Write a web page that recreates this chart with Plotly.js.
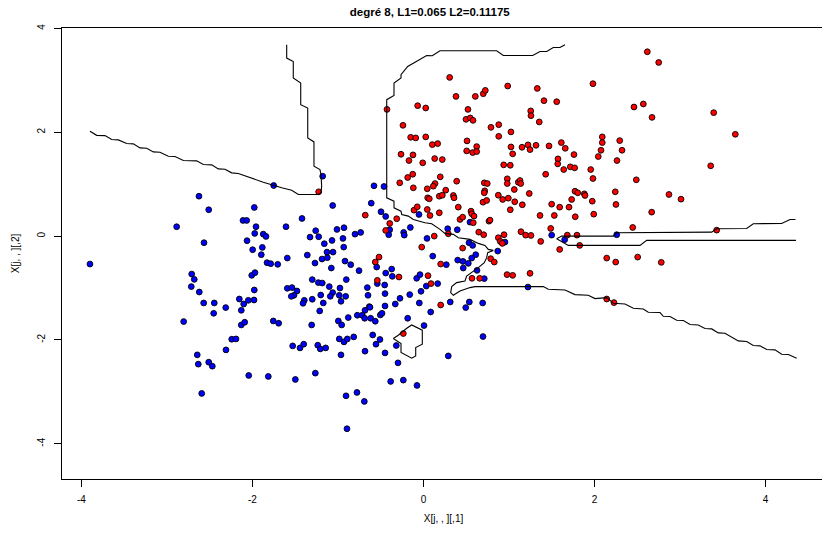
<!DOCTYPE html>
<html>
<head>
<meta charset="utf-8">
<script src="https://cdn.plot.ly/plotly-3.0.1.min.js"></script>
<style>
html, body { margin:0; padding:0; overflow:hidden; background:#fff; }
#chart { width:830px; height:535px; }
</style>
</head>
<body>
<div id="chart"></div>
<script>
// ---- class 1 (red) points ----
const redX = [-0.427,-0.068,0.026,-0.240,-0.150,-0.091,0.026,-0.263,-0.123,-0.170,-0.009,
 0.306,0.380,0.606,0.699,0.723,0.985,1.331,1.982,0.520,0.497,0.547,0.579,1.409,1.558,1.254,1.257,1.354,0.789,0.880,0.880,1.023,
 0.103,0.166,0.509,0.622,0.505,0.575,0.622,1.023,1.043,1.152,1.222,1.246,1.316,1.468,1.612,1.658,1.760,2.091,2.091,2.076,2.044,1.956,
 0.131,0.220,0.938,1.015,1.573,1.570,1.640,1.717,1.768,
 2.618,2.751,2.462,2.571,2.673,3.394,3.647,2.295,2.322,2.263,3.359,
 -0.278,-0.185,-0.126,-0.119,0.044,0.049,-0.111,-0.073,0.044,-0.681,-0.313,-0.395,-0.442,-0.021,-0.520,-0.564,-0.540,-0.287,0.053,-1.226,
 0.196,0.135,0.115,0.260,0.388,0.068,0.185,0.220,0.349,0.357,0.076,0.185,0.407,0.427,0.458,0.556,0.564,0.591,0.582,0.766,0.778,0.646,0.704,
 0.126,0.290,0.458,0.786,0.828,0.201,0.875,0.898,0.942,0.922,0.977,1.043,1.246,0.088,0.567,0.657,0.201,
 1.140,1.195,1.257,1.371,1.488,1.593,1.682,1.795,1.827,
 0.711,0.716,0.746,0.711,0.696,0.739,0.875,0.926,0.980,0.980,0.992,1.062,1.067,1.109,1.129,1.137,1.237,1.156,1.015,
 1.363,1.530,1.499,1.593,1.702,1.733,1.772,1.804,1.881,1.889,1.974,1.982,1.429,1.775,1.991,
 2.489,2.243,2.251,2.871,3.012,2.669,2.447,3.429,2.143,2.248,2.505,2.781,2.143,2.228,
 -0.236];
const redY = [2.442,2.513,2.469,2.135,1.904,1.892,1.912,1.577,1.565,1.456,1.412,
 3.058,2.692,2.692,2.744,2.808,2.892,2.846,2.937,2.442,2.250,2.277,2.231,2.610,2.590,2.412,2.321,2.200,2.096,2.148,1.923,2.008,
 1.763,1.783,1.835,1.725,1.642,1.610,1.629,1.719,1.585,1.712,1.758,1.667,1.750,1.738,1.802,1.692,1.571,1.912,1.802,1.654,1.533,1.283,
 1.494,1.475,1.373,1.365,1.488,1.392,1.283,1.335,1.315,
 3.552,3.346,2.488,2.546,2.288,2.379,1.962,1.840,1.654,1.456,1.354,
 1.027,1.129,1.192,0.931,0.912,0.738,0.500,0.565,0.513,0.404,0.335,0.244,0.110,-0.212,-0.404,-0.500,-0.852,-0.788,-0.762,0.854,
 1.142,1.013,0.962,0.885,1.058,0.719,0.769,0.788,0.783,0.738,0.398,0.450,0.558,0.321,0.365,0.481,0.431,0.385,0.258,0.288,0.308,0.077,0.027,
 0.000,0.046,-0.231,-0.435,-0.500,-0.538,-0.031,-0.102,0.027,-0.140,-0.742,-0.756,-0.717,-0.915,-0.813,-0.813,-1.327,
 0.085,0.019,0.013,-0.102,0.148,-0.256,0.019,0.019,-0.179,
 1.027,0.873,1.013,0.835,0.654,0.687,0.788,0.706,1.104,1.013,0.731,0.898,0.662,1.038,1.071,1.013,0.821,0.604,0.508,
 0.398,0.398,0.615,0.558,0.558,0.706,0.865,0.835,0.815,0.783,0.673,1.110,1.192,0.373,0.423,
 1.085,0.854,0.610,0.802,0.712,0.462,0.167,0.115,-0.423,-0.500,-0.404,-0.506,-1.212,-1.281,
 -1.877];

// ---- class 0 (blue) points ----
const blueX = [-2.626,-2.512,-2.887,-2.111,-2.068,-2.064,-2.567,-3.901,-2.711,-2.681,-2.716,-2.622,-2.009,-2.571,-2.447,-2.154,-2.049,-2.103,
 -1.179,-1.752,-1.979,-1.062,-1.421,-1.959,-1.974,-1.608,-1.874,-1.842,-1.261,-1.327,-1.226,-1.012,-0.930,-0.801,-0.735,-1.160,-1.070,-0.942,
 -1.998,-1.885,-1.897,-0.933,-1.129,-1.058,-1.359,-1.187,-1.125,-1.593,-1.830,-1.787,-1.705,-1.269,-0.918,-0.851,-1.078,-0.754,-1.971,
 -0.579,-0.462,-0.611,-0.497,-0.442,-0.395,-0.407,-0.232,-0.225,-0.154,-0.053,0.041,
 -0.547,-0.372,-0.442,-0.365,-0.540,-0.454,-0.080,-0.041,0.033,-0.029,
 -1.301,-1.230,-1.184,-0.903,-1.102,-1.593,-1.538,-1.480,-1.515,-1.546,-0.977,-1.062,-1.202,-1.090,-0.985,-0.910,-0.657,-0.649,-0.450,
 -1.979,-1.982,-1.394,-1.409,-1.301,-1.172,-0.965,-0.275,-0.161,-0.330,-0.049,-0.450,-0.634,
 0.283,0.395,0.544,0.532,0.575,0.953,0.868,0.611,0.564,0.400,0.462,0.524,0.465,0.626,0.108,0.711,0.166,0.267,1.222,1.499,1.651,0.313,0.536,0.692,
 2.260,
 -2.313,-2.131,-2.454,-2.805,-2.131,-2.091,-2.243,-2.193,-2.310,-2.646,-2.634,-2.512,-2.470,-2.044,-2.594,
 -1.214,-0.684,-0.626,-1.757,-1.694,-1.308,-0.996,-0.957,-0.880,-0.774,-0.716,-0.688,-0.618,-0.564,-0.505,-0.485,-0.185,0.006,
 -1.530,-1.444,-1.401,-1.237,-1.207,-1.144,-0.985,-0.930,-0.891,-0.816,-0.594,-0.509,-0.556,-0.684,-0.965,-0.450,-0.318,-0.298,
 -1.815,-1.499,-1.265,-0.384,-0.236,-0.076,-0.906,-0.778,-0.692,-0.895,
 0.084,0.494,0.696,0.290];
const blueY = [0.769,0.508,0.181,0.302,0.302,-0.088,-0.127,-0.538,-0.731,-0.833,-0.973,-1.077,-0.756,-1.288,-1.288,-1.212,-1.237,-1.308,
 1.154,0.975,0.552,0.590,0.340,0.181,0.052,0.181,0.038,-0.006,0.104,-0.019,-0.012,0.129,0.162,0.038,0.071,-0.146,-0.083,-0.044,
 -0.262,-0.217,-0.358,-0.212,-0.308,-0.308,-0.365,-0.442,-0.415,-0.423,-0.512,-0.531,-0.544,-0.519,-0.481,-0.550,-0.615,-0.665,-0.704,
 0.969,0.956,0.635,0.469,0.379,0.123,0.027,0.071,0.019,0.167,0.417,-0.044,
 -0.596,-0.635,-0.712,-0.775,-0.915,-0.942,-0.813,-0.742,-0.962,-1.063,
 -0.838,-0.896,-0.904,-0.838,-0.973,-1.006,-0.992,-1.058,-1.140,-1.160,-1.000,-1.088,-1.135,-1.160,-1.140,-1.160,-0.992,-1.140,-1.108,
 -1.038,-1.231,-1.237,-1.294,-1.217,-1.288,-1.256,-1.198,-1.127,-1.308,-1.288,-1.346,-1.358,
 0.142,0.123,0.269,-0.127,-0.179,-0.115,-0.288,-0.358,-0.423,-0.462,-0.487,-0.525,-0.615,-0.660,-0.385,-0.819,-0.915,-0.550,-0.981,0.019,-0.069,-1.269,-1.269,-1.288,
 0.027,
 -1.377,-1.429,-1.487,-1.646,-1.712,-1.660,-1.987,-1.981,-2.192,-2.288,-2.467,-2.429,-2.506,-2.685,-3.031,
 -1.442,-1.429,-1.371,-1.635,-1.679,-1.712,-1.635,-1.712,-1.569,-1.525,-1.525,-1.583,-1.583,-1.640,-1.519,-1.487,-1.583,-1.723,
 -2.115,-2.154,-2.083,-2.102,-2.173,-2.154,-1.981,-2.038,-1.981,-1.942,-1.904,-1.992,-2.083,-2.217,-2.288,-2.250,-2.108,-2.442,
 -2.704,-2.762,-2.640,-2.800,-2.775,-2.877,-3.077,-3.012,-3.185,-3.712,
 -1.462,-1.377,-1.935,-2.308];

// ---- decision boundary (contour) paths ----
const boundA_x = [-1.600,-1.600,-1.523,-1.523,-1.436,-1.436,-1.354,-1.354,-1.281,-1.281,-1.211,-1.199,-1.191,-1.199,-1.230,-1.464,-1.542,-1.658,-1.874,-2.029,-2.068,-2.166,-2.243,-2.322,-2.400,-2.477,-2.575,-2.653,-2.809,-2.906,-2.985,-3.082,-3.160,-3.237,-3.316,-3.394,-3.471,-3.570,-3.647,-3.725,-3.822,-3.901];
const boundA_y = [3.687,3.431,3.365,3.046,2.950,2.533,2.469,1.892,1.815,1.346,1.283,1.187,0.962,0.835,0.802,0.802,0.885,0.931,1.038,1.123,1.142,1.206,1.219,1.288,1.296,1.373,1.379,1.450,1.456,1.533,1.538,1.615,1.623,1.692,1.700,1.777,1.783,1.854,1.860,1.937,1.942,2.019];

const boundB_x = [1.655,1.596,1.518,1.441,1.363,1.277,0.933,0.856,0.193,0.103,0.037,-0.091,-0.185,-0.263,-0.263,-0.345,-0.345,-0.430,-0.430,-0.345,-0.345,-0.263,-0.255,-0.178,-0.119,0.018,0.096,0.193,0.251,0.349,0.407,0.544,0.641,0.719,0.758,0.816,0.751,0.739,0.711,0.641,0.505,0.485,0.388,0.330,0.318,0.349,0.427,0.544,0.602,1.401,1.460,1.655,1.772,1.927,2.006,2.143,2.220,2.357,2.454,2.571,2.629,2.766,2.805,2.883,2.961,3.039,3.117,3.214,3.292,3.371,3.448,3.526,3.605,3.682,3.780,3.857,3.936,4.014,4.111,4.189,4.267,4.365];
const boundB_y = [3.687,3.635,3.635,3.558,3.558,3.481,3.481,3.571,3.571,3.475,3.481,3.365,3.269,3.110,3.046,2.950,2.712,2.629,0.738,0.673,0.546,0.481,0.417,0.385,0.321,0.258,0.238,0.129,0.052,0.033,-0.031,-0.063,-0.140,-0.179,-0.256,-0.275,-0.319,-0.415,-0.512,-0.608,-0.769,-0.865,-0.896,-0.973,-1.088,-1.140,-1.058,-0.992,-0.973,-0.973,-1.025,-1.038,-1.127,-1.140,-1.204,-1.185,-1.294,-1.308,-1.390,-1.404,-1.467,-1.473,-1.544,-1.550,-1.621,-1.627,-1.704,-1.712,-1.781,-1.788,-1.865,-1.871,-1.942,-2.019,-2.031,-2.108,-2.115,-2.185,-2.192,-2.275,-2.281,-2.352];

const boundC_x = [4.351,4.287,4.189,3.857,3.780,3.429,3.371,2.260,2.220,1.616,1.558,1.694,2.532,2.611,4.357];
const boundC_y = [0.321,0.321,0.244,0.238,0.148,0.142,0.077,0.065,0.000,0.000,-0.050,-0.179,-0.179,-0.083,-0.083];

const boundD_x = [-0.353,-0.295,-0.196,-0.138,-0.014,-0.014,-0.091,-0.091,-0.138,-0.263,-0.263,-0.353];
const boundD_y = [-1.973,-1.910,-1.775,-1.712,-1.813,-2.083,-2.146,-2.308,-2.352,-2.242,-2.069,-1.973];

const xTicks = [-4,-2,0,2,4];
const yTicks = [-4,-2,0,2,4];

const FONT = 'Liberation Sans, Arial, Helvetica, sans-serif';
const pt = (x, y, c) => ({
  type:'scatter', mode:'markers', x:x, y:y, hoverinfo:'skip', showlegend:false, cliponaxis:false,
  marker:{color:c, size:5.8, line:{color:'#000', width:0.9}}
});
const ln = (x, y) => ({
  type:'scatter', mode:'lines', x:x, y:y, hoverinfo:'skip', showlegend:false,
  line:{color:'#000', width:1.1}
});

const data = [
  pt(blueX, blueY, '#0000FF'),
  pt(redX, redY, '#FF0000'),
  ln(boundA_x, boundA_y), ln(boundB_x, boundB_y), ln(boundC_x, boundC_y), ln(boundD_x, boundD_y)
];

const axisCommon = {
  showgrid:false, zeroline:false, showline:true, mirror:true, linecolor:'#000', linewidth:1,
  ticks:'outside', ticklen:7, tickwidth:1, tickcolor:'#000',
  tickfont:{family:FONT, size:10, color:'#000'}
};

const layout = {
  width:830, height:535,
  margin:{l:62, r:5, t:28, b:56, pad:0},
  paper_bgcolor:'#fff', plot_bgcolor:'#fff',
  font:{family:FONT, color:'#000'},
  title:{text:'<b>degré 8, L1=0.065 L2=0.11175</b>', font:{family:FONT, size:11.5, color:'#000'},
         x:0.482, xanchor:'center', xref:'paper', y:0.978, yref:'container', yanchor:'middle'},
  xaxis:Object.assign({}, axisCommon, {
    range:[-4.228, 4.696], tickvals:xTicks, ticktext:xTicks.map(String), ticklabelstandoff:4,
    title:{text:'X[j, , ][,1]', font:{family:FONT, size:10, color:'#000'}, standoff:10}
  }),
  yaxis:Object.assign({}, axisCommon, {
    range:[-4.680, 4.01], tickvals:yTicks, ticktext:yTicks.map(String), tickangle:-90, ticklabelstandoff:5,
    title:{text:'X[j, , ][,2]', font:{family:FONT, size:10, color:'#000'}, standoff:14}
  })
};

Plotly.newPlot('chart', data, layout, {staticPlot:true, displayModeBar:false});
</script>
</body>
</html>
